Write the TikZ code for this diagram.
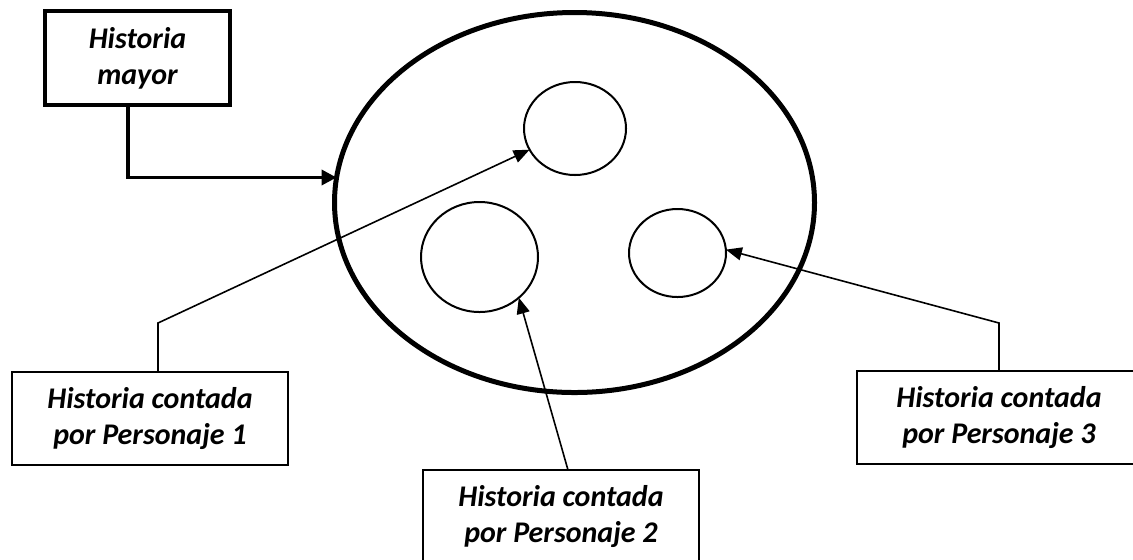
\documentclass[tikz,border=0pt]{standalone}
\usepackage{fontspec}
\setmainfont{Carlito}
\usepackage{tikz}
\usetikzlibrary{arrows.meta,shapes.geometric}
\tikzset{
         storybox/.style=
          {
           draw, rectangle, line width=0.85pt,
           minimum width=138pt, minimum height=46.5pt,
           inner sep=0pt, outer sep=0pt, align=center,
           font=\bfseries\itshape\fontsize{15}{18}\selectfont
          },
         mayorbox/.style={storybox, line width=2pt, minimum width=92.5pt, minimum height=47pt},
         bigstory/.style={draw, ellipse, line width=2.5pt, minimum width=240pt, minimum height=190pt, inner sep=0pt, outer sep=0pt},
         substory/.style={draw, ellipse, line width=1pt, inner sep=0pt, outer sep=0pt},
         thinarrow/.style={line width=0.8pt, -{Triangle[length=8pt,width=6.5pt]}},
         thickarrow/.style={line width=1.7pt, -{Triangle[length=7.5pt,width=7.5pt]}}
        }

\begin{document}
\begin{tikzpicture}[x=0.5pt,y=-0.5pt]
      \useasboundingbox (0,0) rectangle (1133,559); % page size
      \clip (0,0) rectangle (1133,559); % cut boxes at the page edge
      \node[mayorbox] (mayor) at (137.5,58) {Historia\\mayor}; % main story box
      \node[bigstory] (big) at (574.5,202.5) {}; % big ellipse
      \node[substory,minimum width=51pt,minimum height=46.5pt] (c1) at (575,128.5) {}; % upper circle
      \node[substory,minimum width=58.5pt,minimum height=55pt] (c2) at (479.5,257) {}; % left circle
      \node[substory,minimum width=48.5pt,minimum height=44pt] (c3) at (677.5,253) {}; % right circle
      \node[storybox] (p1) at (150,418.5) {Historia contada\\por Personaje 1}; % Personaje 1 box
      \node[storybox] (p2) at (561,516.5) {Historia contada\\por Personaje 2}; % Personaje 2 box
      \node[storybox,minimum width=142pt] (p3) at (999,417.5) {Historia contada\\por Personaje 3}; % Personaje 3 box
      \draw[thickarrow] ([xshift=-4.75pt]mayor.south) |- (big.174); % Wiring
      \draw[thinarrow] ([xshift=4pt]p1.north) -- ++(0,-49) -- (c1); % Personaje 1 arrow
      \draw[thinarrow] ([xshift=3.5pt]p2.north) -- (c2.314); % Personaje 2 arrow
      \draw[thinarrow] (p3.north) -- ++(0,-48) -- (c3.4); % Personaje 3 arrow
\end{tikzpicture}
\end{document}
